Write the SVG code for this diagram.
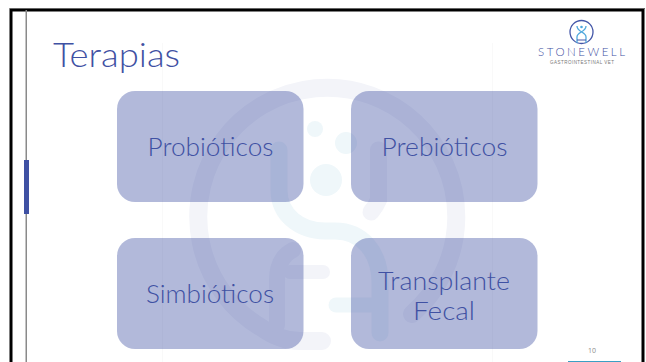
<svg xmlns="http://www.w3.org/2000/svg" width="646" height="362" viewBox="0 0 646 362">
<style>
.card{fill:#3f51a3;fill-opacity:.4}
.lab{font-family:"Lato","Liberation Sans",sans-serif;font-weight:300;fill:#3f51a3;text-anchor:middle;font-size:25px}
.lav{fill:none;stroke:#f3f4f9;stroke-linecap:round}
.teal{fill:none;stroke:#eff7fa;stroke-linecap:round}
</style>
<rect width="646" height="362" fill="#fff"/>
<g id="watermark">
<path class="lav" stroke-width="18" d="M412 314A129 129 0 1 0 262 328Q280 341 300 341H322"/>
<path class="lav" stroke-width="17" d="M378.500 150V200Q376 206 371 212"/>
<path class="lav" stroke-width="16" d="M293 250Q277 258 277 280V325"/>
<path class="lav" stroke-width="14" d="M290 272H323"/>
<path class="teal" stroke-width="17" d="M279 150V190C279 215 300 231 325 231H335C362 231 380 252 380 283V333"/>
<path class="teal" stroke-width="15" d="M336 305H380"/>
<circle cx="315" cy="129" r="8" fill="#eff7fa"/>
<circle cx="346" cy="143" r="11" fill="#eff7fa"/>
<circle cx="326" cy="180" r="16" fill="#eff7fa"/>
</g>
<g id="guides" stroke="#f9f9f9" stroke-width="1">
<path d="M162.500 43V362M492.500 43V362"/>
</g>
<g id="frame">
<path d="M11 362V10H643V362" fill="none" stroke="#000" stroke-width="3"/>
<path d="M9.500 8.500H645" stroke="#666" stroke-width="1"/>
<rect x="25.500" y="10" width="1.500" height="352" fill="#8a8a8a"/>
<rect x="24" y="160" width="5" height="54" fill="#3f51a3"/>
</g>
<text id="title" x="53" y="67" font-family="Lato,'Liberation Sans',sans-serif" font-weight="300" font-size="34" fill="#3f51a3" textLength="127" lengthAdjust="spacingAndGlyphs">Terapias</text>
<g id="node-probioticos">
<rect class="card" x="117" y="91" width="186.500" height="111" rx="18"/>
<text class="lab" x="210.500" y="156" textLength="126" lengthAdjust="spacingAndGlyphs">Probióticos</text>
</g>
<g id="node-prebioticos">
<rect class="card" x="351" y="91" width="186.500" height="111" rx="18"/>
<text class="lab" x="444.500" y="156" textLength="126" lengthAdjust="spacingAndGlyphs">Prebióticos</text>
</g>
<g id="node-simbioticos">
<rect class="card" x="117" y="238" width="186.500" height="111" rx="18"/>
<text class="lab" x="210" y="303" textLength="128" lengthAdjust="spacingAndGlyphs">Simbióticos</text>
</g>
<g id="node-transplante">
<rect class="card" x="351" y="238" width="186.500" height="111" rx="18"/>
<text class="lab" x="444" y="289.500" textLength="132" lengthAdjust="spacingAndGlyphs">Transplante</text>
<text class="lab" x="444" y="319.500" textLength="62" lengthAdjust="spacingAndGlyphs">Fecal</text>
</g>
<g id="logo">
<circle cx="581.500" cy="32" r="11.500" fill="none" stroke="#4457a8" stroke-width="1.300"/>
<path d="M577 26C577 32 586 32 586 37V43M586 26C586 32 577 32 577 37V43" fill="none" stroke="#4fa8dc" stroke-width="1.300"/>
<path d="M577 40H586" stroke="#4457a8" stroke-width="1"/>
<circle cx="581.500" cy="27" r="1.300" fill="#4fa8dc"/>
<text x="538" y="56" font-family="Lato,'Liberation Sans',sans-serif" font-weight="300" font-size="11.500" fill="#3f51a3" textLength="87" lengthAdjust="spacing">STONEWELL</text>
<text x="550" y="63.500" font-family="'Liberation Sans',sans-serif" font-size="4.500" fill="#777" textLength="64" lengthAdjust="spacing">GASTROINTESTINAL VET</text>
</g>
<text id="page" x="592" y="353" text-anchor="middle" font-family="'Open Sans','Liberation Sans',sans-serif" font-size="7" fill="#8c8c8c">10</text>
<rect id="page-rule" x="568" y="361" width="53" height="1" fill="#3a9fc4"/>
</svg>
